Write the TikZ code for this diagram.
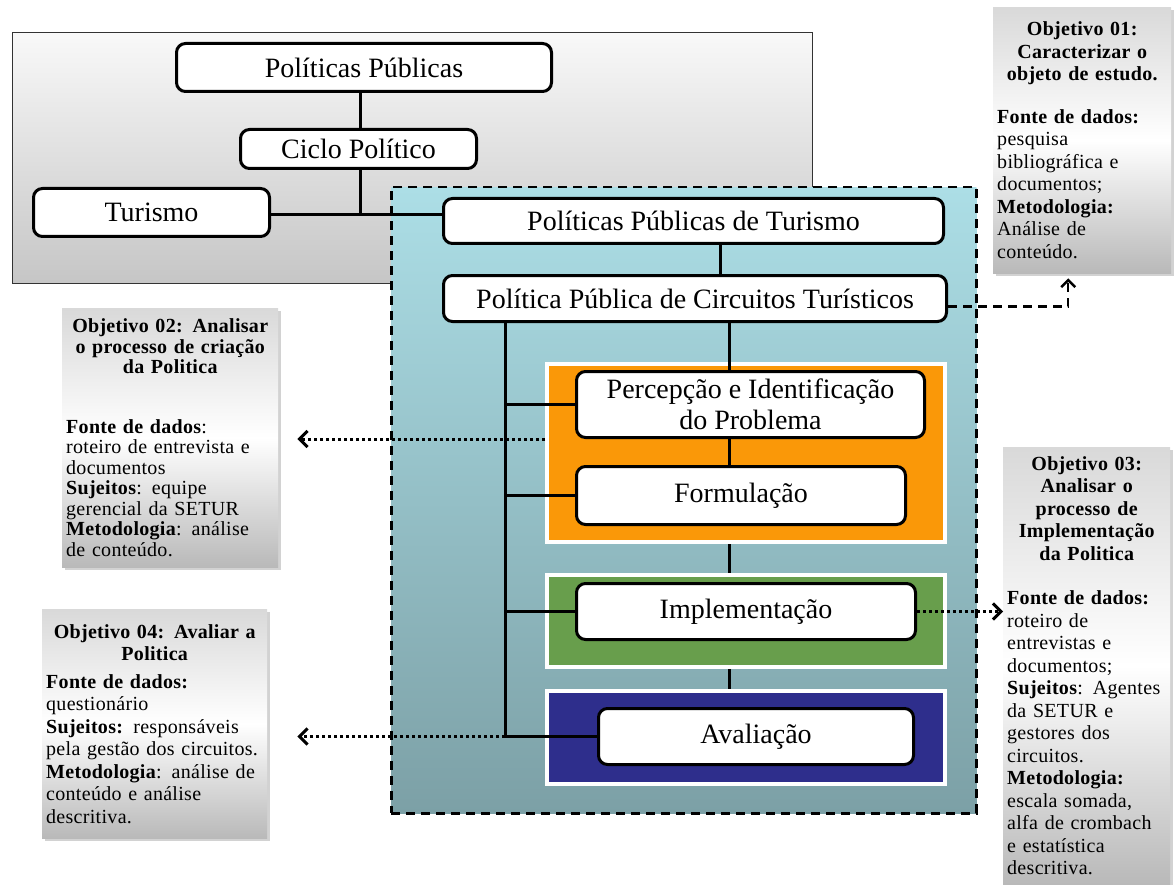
\documentclass[tikz,border=0pt]{standalone}
\usepackage{fontspec}
\setmainfont{Liberation Serif}
\newfontfamily\objfont[LetterSpace=1.5]{Liberation Serif}
\usetikzlibrary{arrows.meta,shadows}

\definecolor{orangeframe}{RGB}{250,152,8}
\definecolor{greenframe}{RGB}{104,158,76}
\definecolor{blueframe}{RGB}{46,46,140}
\definecolor{tealtop}{RGB}{172,222,230}
\definecolor{tealbot}{RGB}{124,160,166}

\tikzset{
  stage/.style={draw, line width=3pt, rounded corners=9pt, fill=white, anchor=north west,
    align=center, inner sep=0pt, font=\fontsize{28}{31}\selectfont},
  frame/.style={draw=white, line width=4pt, anchor=north west, inner sep=0pt,
    drop shadow={opacity=.25, shadow xshift=2pt, shadow yshift=-2pt}},
  objbox/.style={anchor=north west, inner xsep=4pt, inner ysep=0pt,
    top color=gray!30, bottom color=gray!55, middle color=white,
    drop shadow={opacity=.35, shadow xshift=3pt, shadow yshift=-3pt},
    font=\objfont\fontsize{20}{22.5}\selectfont},
  link/.style={line width=3pt},
  dotlink/.style={line width=3pt, dash pattern=on 3pt off 3pt,
    -{Straight Barb[length=8pt,width=16pt,line width=3pt]}},
  dashlink/.style={line width=2.5pt, dash pattern=on 9pt off 6pt,
    -{Straight Barb[length=7pt,width=14pt,line width=2.5pt]}}
}

\begin{document}
\begin{tikzpicture}[x=1pt,y=-1pt]
  \useasboundingbox[fill=white] (0,0) rectangle (1174,885);

  % areas
  \node[anchor=north west, minimum width=800pt, minimum height=251pt, draw=gray!40!black,
    line width=1pt, top color=gray!5, bottom color=gray!45] (politics) at (12,32) {};
  \node[anchor=north west, minimum width=585pt, minimum height=626pt, draw, line width=2.5pt,
    dash pattern=on 9pt off 6pt, top color=tealtop, bottom color=tealbot] (tourism) at (390,186) {};

  % objetivos
  \node[objbox, text width=170pt, minimum height=266pt] (obj1) at (993,7) {%
    {\centering\bfseries Objetivo 01:\\Caracterizar o\\objeto de estudo.\par}\vspace{20pt}%
    {\raggedright\textbf{Fonte de dados:}\\pesquisa\\bibliográfica e\\documentos;\\
     \textbf{Metodologia:}\\Análise de\\conteúdo.\par}};
  \node[objbox, text width=208pt, minimum height=259pt,
    font=\objfont\fontsize{20}{20.5}\selectfont] (obj2) at (62,308) {%
    {\centering\bfseries Objetivo 02: Analisar\\o processo de criação\\da Politica\par}\vspace{39pt}%
    {\raggedright\textbf{Fonte de dados}:\\roteiro de entrevista e\\documentos\\
     \textbf{Sujeitos}: equipe\\gerencial da SETUR\\\textbf{Metodologia}: análise\\de conteúdo.\par}};
  \node[objbox, text width=159pt, minimum height=437pt] (obj3) at (1003,447) {%
    {\centering\bfseries Objetivo 03:\\Analisar o\\processo de\\Implementação\\da Politica\par}\vspace{22pt}%
    {\raggedright\textbf{Fonte de dados:}\\roteiro de\\entrevistas e\\documentos;\\
     \textbf{Sujeitos}: Agentes\\da SETUR e\\gestores dos\\circuitos.\\\textbf{Metodologia:}\\
     escala somada,\\alfa de crombach\\e estatística\\descritiva.\par}};
  \node[objbox, text width=217pt, minimum height=229pt] (obj4) at (42,609) {%
    {\centering\bfseries Objetivo 04: Avaliar a\\Politica\par}\vspace{5pt}%
    {\raggedright\textbf{Fonte de dados:}\\questionário\\\textbf{Sujeitos:} responsáveis\\
     pela gestão dos circuitos.\\\textbf{Metodologia}: análise de\\conteúdo e análise\\descritiva.\par}};

  % fases
  \node[frame, fill=orangeframe, minimum width=398pt, minimum height=178pt] (orange) at (545,362) {};
  \node[frame, fill=greenframe, minimum width=398pt, minimum height=92pt] (green) at (545,573) {};
  \node[frame, fill=blueframe, minimum width=398pt, minimum height=93pt] (blue) at (545,689) {};

  \node[stage, minimum width=375pt, minimum height=48pt] (pp) at (175,42) {Políticas Públicas};
  \node[stage, minimum width=236pt, minimum height=39pt] (ciclo) at (239,128) {Ciclo Político};
  \node[stage, minimum width=236pt, minimum height=48pt] (turismo) at (32,187) {Turismo};
  \node[stage, minimum width=500pt, minimum height=45pt] (ppt) at (442,197) {Políticas Públicas de Turismo};
  \node[stage, minimum width=503pt, minimum height=46pt] (pct) at (442,274) {Política Pública de Circuitos Turísticos};
  \node[stage, minimum width=348pt, minimum height=66pt] (pi) at (575,370) {Percepção e Identificação\\do Problema};
  \node[stage, minimum width=329pt, minimum height=58pt] (form) at (575,465) {Formulação};
  \node[stage, minimum width=339pt, minimum height=56pt] (impl) at (575,582) {Implementação};
  \node[stage, minimum width=315pt, minimum height=56pt] (aval) at (597,707) {Avaliação};

  \coordinate (hub) at (360,215);
  \coordinate (spine) at (505,0);
  \coordinate (axis) at (729,0);

  \draw[link] (pp.south -| hub) -- (ciclo.north -| hub);
  \draw[link] (ciclo.south -| hub) -- (hub);
  \draw[link] (turismo.east |- hub) -- (ppt.west |- hub);
  \draw[link] ([xshift=27pt]ppt.south) -- ([xshift=27pt]ppt.south |- pct.north);
  \draw[link] (pct.south -| axis) -- (pi.north -| axis);
  \draw[link] (pi.south -| axis) -- (form.north -| axis);
  \draw[link] (orange.south -| axis) -- (green.north -| axis);
  \draw[link] (green.south -| axis) -- (blue.north -| axis);
  \draw[link] (pct.south -| spine) -- (spine |- aval.west);
  \foreach \n in {pi,form,impl,aval}
    \draw[link] (spine |- \n.west) -- (\n.west);

  \draw[dashlink, shorten >=5pt] ([yshift=-8pt]pct.east) -| ([xshift=-14pt]obj1.south);
  \draw[dotlink, shorten >=19pt] (orange.west |- pi.south) -- (obj2.east |- pi.south);
  \draw[dotlink] (impl.east) -- (obj3.west |- impl.east);
  \draw[dotlink, shorten >=30pt] (spine |- aval.west) -- (obj4.east |- aval.west);
\end{tikzpicture}
\end{document}
